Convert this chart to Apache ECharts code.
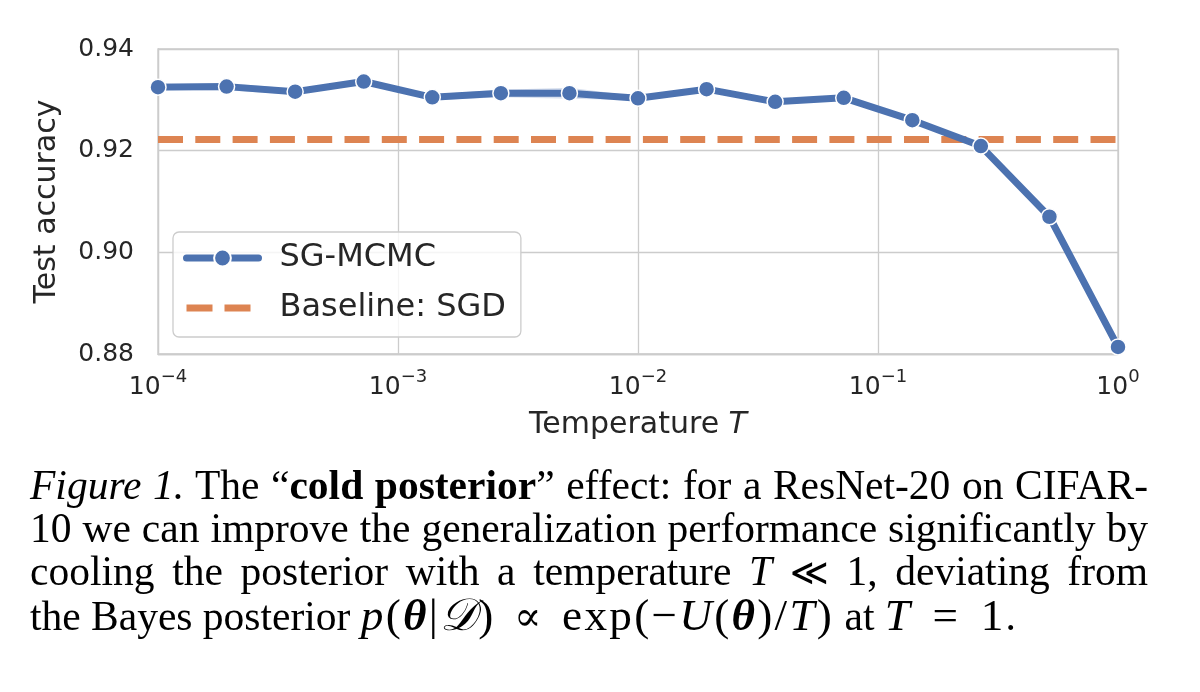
<!DOCTYPE html>
<html>
<head>
<meta charset="utf-8">
<script src="https://cdn.jsdelivr.net/npm/echarts@6/dist/echarts.min.js"></script>
<style>
  html, body { margin: 0; padding: 0; background: #fff; }
  #wrap { position: relative; width: 1200px; height: 692px; overflow: hidden; }
  #chart { position: absolute; left: 0; top: 0; width: 1200px; height: 692px; }
  #caption { position: absolute; left: 30px; top: 464px; width: 1118px;
    font-family: "Liberation Serif", "Times New Roman", serif; font-size: 41.5px; line-height: 43px; color: #000; }
  #caption .ln { text-align: justify; text-align-last: justify; white-space: nowrap; }
  #caption .last { text-align: left; text-align-last: left; white-space: nowrap; }
  #caption i.m { font-style: italic; }
  #caption .math { font-size: 1.09em; letter-spacing: 0.05em; }
  #caption .sym { font-family: "DejaVu Serif", "DejaVu Sans", serif; font-size: 0.9em; }
  #caption .op { margin: 0 0.45em; }
</style>
</head>
<body>
<div id="wrap">
  <div id="chart"></div>
  <div id="caption">
    <div class="ln"><i>Figure 1.</i> The “<b>cold posterior</b>” effect: for a ResNet-20 on CIFAR-</div>
    <div class="ln">10 we can improve the generalization performance significantly by</div>
    <div class="ln">cooling the posterior with a temperature <i class="m">T</i> <span class="sym">≪</span> 1, deviating from</div>
    <div class="last">the Bayes posterior <span class="math"><i class="m">p</i>(<b><i>θ</i></b>|<i class="m">𝒟</i>)<span class="sym op">∝</span>exp(−<i class="m">U</i>(<b><i>θ</i></b>)/<i class="m">T</i>)</span> at <span class="math"><i class="m">T</i><span class="op">=</span>1</span>.</div>
  </div>
</div>
<script>
// Temperatures (x values)
const temperatures = [0.0001, 0.00019307, 0.00037276, 0.00071969, 0.0013895, 0.0026827, 0.0051795,
  0.01, 0.019307, 0.037276, 0.071969, 0.13895, 0.26827, 0.51795, 1.0];
// SG-MCMC mean test accuracy
const sgmcmcMean = [0.9325, 0.9326, 0.9316, 0.9336, 0.9305, 0.9313, 0.9313,
  0.9303, 0.9321, 0.9296, 0.9304, 0.9260, 0.9209, 0.9070, 0.8814];
// Confidence band
const sgmcmcLower = [0.9318, 0.9319, 0.9310, 0.9332, 0.9299, 0.9305, 0.9302,
  0.9299, 0.9316, 0.9292, 0.9299, 0.9256, 0.9204, 0.9062, 0.8810];
const sgmcmcUpper = [0.9332, 0.9333, 0.9322, 0.9340, 0.9311, 0.9320, 0.9324,
  0.9307, 0.9326, 0.9300, 0.9309, 0.9264, 0.9214, 0.9078, 0.8818];
// Baseline SGD accuracy
const sgdBaseline = 0.9222;
const baselineX = [0.0001, 1.0];
// Axis ticks
const yTicks = { min: 0.88, max: 0.94, interval: 0.02 };
const xRange = { min: 0.0001, max: 1 };

const BLUE = '#4C72B0', ORANGE = '#DD8452', TEXT = '#262626', GRID = '#cccccc';
const FONT = 'DejaVu Sans';

const chart = echarts.init(document.getElementById('chart'));
const meanData = temperatures.map((t, i) => [t, sgmcmcMean[i]]);
const baseData = baselineX.map(t => [t, sgdBaseline]);

chart.setOption({
  animation: false,
  textStyle: { fontFamily: FONT },
  grid: { left: 158, top: 49, width: 960, height: 305, show: true,
    borderColor: GRID, borderWidth: 1.3, backgroundColor: 'transparent' },
  legend: {
    data: [
      { name: 'SG-MCMC', lineStyle: { width: 7, cap: 'round' } },
      { name: 'Baseline: SGD', itemStyle: { opacity: 0 }, lineStyle: { width: 7, type: [26, 12], cap: 'butt' } }
    ],
    orient: 'vertical', left: 173, top: 232,
    backgroundColor: 'rgba(255,255,255,0.8)', borderColor: GRID, borderWidth: 1.3, borderRadius: 6,
    padding: [10, 15, 13, 10], itemWidth: 72, itemHeight: 21, itemGap: 18,
    textStyle: { fontSize: 32, color: TEXT, fontFamily: FONT, padding: [0, 0, 0, 16], lineHeight: 31 }
  },
  xAxis: {
    type: 'log', logBase: 10, min: xRange.min, max: xRange.max,
    name: 'Temperature {i|T}', nameLocation: 'middle', nameGap: 56,
    nameTextStyle: { fontSize: 30, color: TEXT, fontFamily: FONT,
      rich: { i: { fontSize: 30, fontStyle: 'italic', color: TEXT, fontFamily: FONT } } },
    axisLine: { show: true, lineStyle: { color: GRID, width: 1.3 } },
    axisTick: { show: false },
    splitLine: { show: true, lineStyle: { color: GRID, width: 1.3 } },
    minorSplitLine: { show: false },
    axisLabel: {
      margin: 14, color: TEXT,
      formatter: v => '{b|10}{s|' + String(Math.round(Math.log10(v))).replace('-', '−') + '}',
      rich: {
        b: { fontSize: 25, lineHeight: 32, verticalAlign: 'bottom', color: TEXT, fontFamily: FONT },
        s: { fontSize: 18, lineHeight: 18, verticalAlign: 'top', color: TEXT, fontFamily: FONT }
      }
    }
  },
  yAxis: {
    type: 'value', min: yTicks.min, max: yTicks.max, interval: yTicks.interval,
    name: 'Test accuracy', nameLocation: 'middle', nameGap: 96,
    nameTextStyle: { fontSize: 30, color: TEXT, fontFamily: FONT },
    axisLine: { show: true, lineStyle: { color: GRID, width: 1.3 } },
    axisTick: { show: false },
    splitLine: { show: true, lineStyle: { color: GRID, width: 1.3 } },
    axisLabel: { margin: 24, fontSize: 25, color: TEXT, fontFamily: FONT, formatter: v => v.toFixed(2) }
  },
  series: [
    { name: 'band', type: 'custom', silent: true, z: 1,
      data: [[temperatures[0], sgmcmcMean[0]]],
      renderItem: (params, api) => {
        if (params.dataIndex !== 0) return;
        const up = temperatures.map((t, i) => api.coord([t, sgmcmcUpper[i]]));
        const lo = temperatures.map((t, i) => api.coord([t, sgmcmcLower[i]])).reverse();
        return { type: 'polygon', shape: { points: up.concat(lo) },
          style: { fill: 'rgba(76,114,176,0.22)', stroke: 'none' } };
      }
    },
    { name: 'Baseline: SGD', type: 'line', data: baseData, symbol: 'none', z: 2,
      itemStyle: { color: ORANGE },
      lineStyle: { color: ORANGE, width: 7, type: [25, 12.3], cap: 'butt' } },
    { name: 'SG-MCMC', type: 'line', data: meanData, z: 3,
      symbol: 'circle', symbolSize: 16,
      itemStyle: { color: BLUE, borderColor: '#ffffff', borderWidth: 1.5 },
      lineStyle: { color: BLUE, width: 7 } }
  ]
});
</script>
</body>
</html>
